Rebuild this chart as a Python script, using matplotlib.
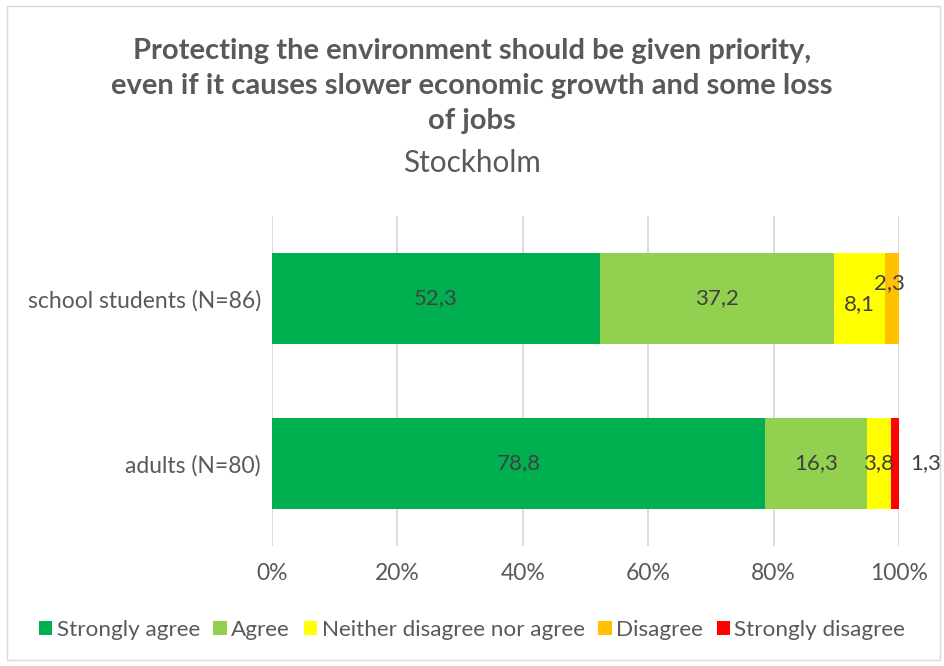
import numpy as np
import matplotlib
matplotlib.use('Agg')
from matplotlib import pyplot as plt
from matplotlib.patches import Rectangle

# data
groups = ['adults (N=80)', 'school students (N=86)']
answers = ['Strongly agree', 'Agree', 'Neither disagree nor agree', 'Disagree', 'Strongly disagree']
adults = [78.8, 16.3, 3.8, 0.0, 1.3]
students = [52.3, 37.2, 8.1, 2.3, 0.0]
colors = ['#00B050', '#92D050', '#FFFF00', '#FFC000', '#FF0000']

plt.rcParams['font.family'] = ['Lato', 'DejaVu Sans']

fig = plt.figure(figsize=(9.44, 6.66), dpi=100)
ax = fig.add_axes([0.2881, 0.1802, 0.6642, 0.4955])

values = np.array([adults, students])
shares = values / values.sum(axis=1, keepdims=True)
left = np.zeros(2)
ypos = np.arange(len(groups))

for i, name in enumerate(answers):
    bars = ax.barh(ypos, shares[:, i], left=left, height=0.556,
                   color=colors[i], label=name, zorder=3)
    for j, b in enumerate(bars):
        v = values[j, i]
        if v == 0:
            continue
        cx = left[j] + shares[j, i] / 2
        cy = ypos[j]
        dx, dy = 0, 0
        # small slices get nudged the way the original chart does
        if name == 'Disagree':
            dx, dy = -2, 11
        if name == 'Neither disagree nor agree' and j == 1:
            dy = -4
        if name == 'Strongly disagree':
            dx, dy = 22, 0
        ax.annotate(f'{v:.1f}'.replace('.', ','), (cx, cy),
                    xytext=(dx, dy), textcoords='offset points',
                    ha='center', va='center', fontsize=16, color='#404040', zorder=4)
    left += shares[:, i]

ax.set_xlim(0, 1)
ax.set_ylim(-0.5, 1.5)
ax.set_yticks(ypos)
ax.set_yticklabels(groups, fontsize=16.5, color='#595959')
ax.set_xticks(np.linspace(0, 1, 6))
ax.set_xticklabels([f'{int(t*100)}%' for t in np.linspace(0, 1, 6)], fontsize=16.5, color='#595959')
ax.tick_params(length=0, pad=8)
ax.tick_params(axis='x', pad=12)
ax.grid(axis='x', color='#D9D9D9', linewidth=1.3, zorder=0)
for s in ax.spines.values():
    s.set_visible(False)

fig.text(0.5, 0.871, 'Protecting the environment should be given priority,\neven if it causes slower economic growth and some loss\nof jobs',
         ha='center', va='center', fontsize=21, fontweight='bold', color='#595959', linespacing=1.42)
fig.text(0.5, 0.755, 'Stockholm', ha='center', va='center', fontsize=21.3, color='#595959')

ax.legend(loc='center', bbox_to_anchor=(0.5, 0.054), bbox_transform=fig.transFigure,
          ncol=5, frameon=False, fontsize=16.2, labelcolor='#595959',
          handlelength=0.6, handleheight=0.6, handletextpad=0.2, columnspacing=0.6)

fig.patches.append(Rectangle((7/944, 6/666), 933/944, 654/666, transform=fig.transFigure,
                             fill=False, edgecolor='#D9D9D9', linewidth=1))

fig.savefig('out.png', dpi=100)
